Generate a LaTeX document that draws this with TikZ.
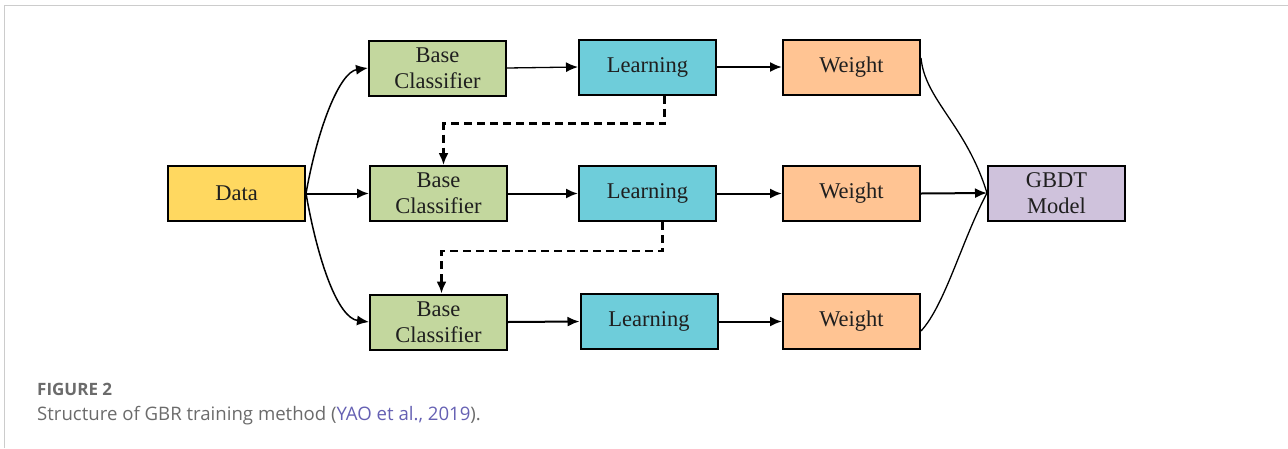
\documentclass[tikz,border=0pt]{standalone}
\usepackage{fontspec}
\newfontfamily\capfont{Open Sans}
\newfontfamily\blockfam{Liberation Serif}
\usetikzlibrary{arrows.meta}

\definecolor{datafill}{HTML}{FFD860}
\definecolor{basefill}{HTML}{C3D79E}
\definecolor{learnfill}{HTML}{6ECDDA}
\definecolor{weightfill}{HTML}{FFC493}
\definecolor{gbdtfill}{HTML}{CFC2DC}
\definecolor{framegray}{HTML}{CCCCCC}
\definecolor{capgray}{HTML}{6B6B6B}
\definecolor{citeblue}{HTML}{6560B3}

\newcommand{\boxfont}{\blockfam\fontsize{22.5}{26}\selectfont}

\begin{document}
\begin{tikzpicture}[x=1pt, y=-1pt,
  block/.style={draw=black, line width=2pt, minimum width=137pt, minimum height=55pt,
    inner sep=0pt, align=center, font=\boxfont, text=black!88},
  flow/.style={line width=2pt, -{Latex[length=12pt,width=10pt]}},
  thinflow/.style={line width=1.3pt, -{Latex[length=12pt,width=10pt]}},
  curve/.style={line width=1.5pt},
  feedback/.style={line width=2.2pt, dash pattern=on 8pt off 5pt, -{Latex[length=12pt,width=10pt]}}]

\useasboundingbox (0,0) rectangle (1288,448);

% page frame
\draw[framegray, line width=1.5pt] (4.5,448) -- (4.5,5.5) -- (1288,5.5);

% nodes
\node[block, fill=datafill] (data) at (236.5,193.5) {Data};

\node[block, fill=basefill] (b1) at (437.5,68) {Base\\Classifier};
\node[block, fill=basefill] (b2) at (438.5,193.5) {Base\\Classifier};
\node[block, fill=basefill] (b3) at (438.5,322) {Base\\Classifier};

\node[block, fill=learnfill] (l1) at (647.5,67) {Learning};
\node[block, fill=learnfill] (l2) at (647.5,193.5) {Learning};
\node[block, fill=learnfill] (l3) at (649,321.5) {Learning};

\node[block, fill=weightfill] (w1) at (851.5,67) {Weight};
\node[block, fill=weightfill] (w2) at (851.5,193.5) {Weight};
\node[block, fill=weightfill] (w3) at (851.5,321.5) {Weight};

\node[block, fill=gbdtfill] (g) at (1056.5,193) {GBDT\\Model};

% data fans out to the three base classifiers
\draw[curve, -{Latex[length=12pt,width=10pt]}] (data.east) .. controls (318,126) and (340,72) .. (b1.west);
\draw[flow] (data.east) -- (b2.west);
\draw[curve, -{Latex[length=12pt,width=10pt]}] (data.east) .. controls (318,262) and (338,318) .. (b3.west);

% row chains
\draw[thinflow] (b1.east) -- (l1.west);
\draw[flow] (l1.east) -- (w1.west);
\draw[flow] (b2.east) -- (l2.west);
\draw[flow] (l2.east) -- (w2.west);
\draw[flow] (b3.east) -- (l3.west);
\draw[flow] (l3.east) -- (w3.west);

% feedback from each learner to the next base classifier
\draw[feedback] ([xshift=17pt]l1.south) -- ++(0,28) -| ([xshift=5pt]b2.north);
\draw[feedback] ([xshift=15pt]l2.south) -- ++(0,29) -| ([xshift=3pt]b3.north);

% weights combined into the model
\draw[curve, line width=1.3pt] ([yshift=9pt]w1.east) .. controls (925,100) and (966,125) .. (g.west);
\draw[flow] (w2.east) -- (g.west);
\draw[curve, line width=1.3pt] ([yshift=-9.5pt]w3.east) .. controls (945,305) and (962,240) .. (g.west);

% caption
\node[anchor=base west, inner sep=0pt, font=\capfont\bfseries\fontsize{17}{20}\selectfont, text=capgray] (fig) at (37,395) {FIGURE 2};
\node[anchor=base west, inner sep=0pt, font=\capfont\fontsize{18.6}{22}\selectfont, text=capgray] (cap) at (37,420)
  {Structure of GBR training method (\textcolor{citeblue}{YAO et al., 2019}).};
\end{tikzpicture}
\end{document}
